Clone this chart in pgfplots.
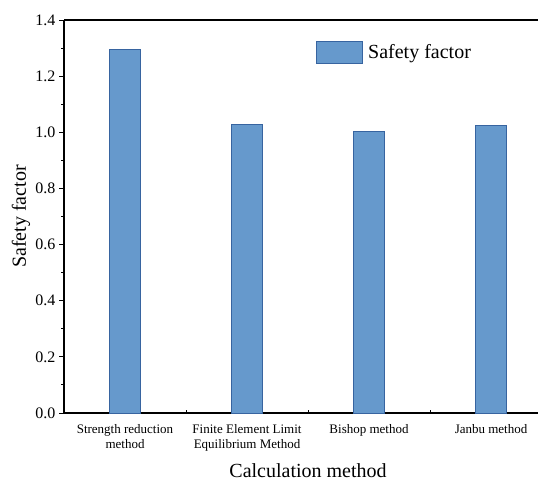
\documentclass[border=0pt]{standalone}
\usepackage{pgfplots}
\pgfplotsset{compat=1.18}
\usepackage{fontspec}
\setmainfont{Liberation Serif}
\definecolor{barfill}{RGB}{102,153,204}
\definecolor{baredge}{RGB}{55,100,160}
\begin{document}
\begin{tikzpicture}[x=1pt,y=1pt]
\useasboundingbox (0,0) rectangle (538,483);
\begin{axis}[
  at={(64pt,70pt)}, anchor=south west,
  scale only axis, width=474pt, height=393pt,
  xmin=-0.5, xmax=3.385, ymin=0, ymax=1.4,
  axis x line=box, axis y line=left,
  axis line style={line width=1.3pt, -},
  xtick={0,1,2,3},
  xticklabels={Strength reduction\\method, Finite Element Limit\\Equilibrium Method, Bishop method, Janbu method},
  minor xtick={0.5,1.5,2.5},
  xtick pos=bottom,
  x tick label style={font=\fontsize{13}{15}\selectfont, align=center, yshift=-8pt},
  tick align=inside,
  tick style={line width=1pt, color=black},
  ytick={0,0.2,...,1.4},
  minor ytick={0.1,0.3,...,1.3},
  ytick pos=left,
  major y tick style={xshift=-5pt},
  minor y tick style={xshift=-3pt},
  y tick label style={font=\fontsize{16}{18}\selectfont, xshift=-5pt, /pgf/number format/fixed, /pgf/number format/fixed zerofill, /pgf/number format/precision=1},
  /pgf/number format/assume math mode=true,
  major tick length=5pt, minor tick length=3pt,
  xlabel={Calculation method},
  ylabel={Safety factor},
  xlabel style={font=\fontsize{20}{24}\selectfont, at={(axis description cs:0.5148,0)}, anchor=center, yshift=-58pt},
  ylabel style={font=\fontsize{20}{24}\selectfont, at={(axis description cs:-0.0907,0.5)}, anchor=center},
  legend style={at={(rel axis cs:0.532,0.9466)}, anchor=north west, draw=none, fill=none, font=\fontsize{20}{24}\selectfont, inner sep=0pt},
  legend image code/.code={\draw[#1, draw=baredge, fill=barfill] (0pt,-11pt) rectangle (46pt,11pt);},
  legend cell align=left,
  legend style={/tikz/every even column/.append style={column sep=0pt}, nodes={inner xsep=5pt}},
  clip=false,
]
\addplot[ybar, bar width=0.25, fill=barfill, draw=baredge, line width=0.8pt] coordinates {(0,1.296) (1,1.027) (2,1.003) (3,1.023)};
\addlegendentry{Safety factor}
\end{axis}
\end{tikzpicture}
\end{document}
